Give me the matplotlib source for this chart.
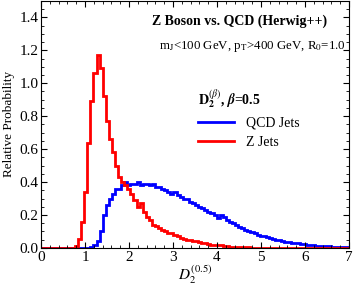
import numpy as np
import matplotlib
matplotlib.use("Agg")
import matplotlib.pyplot as plt
from matplotlib.ticker import MultipleLocator

# 100 bins between 0 and 7
edges = np.linspace(0, 7, 101)

z_jets = [0, 0, 0, 0, 0, 0, 0, 0, 0, 0,
          0, 0.01, 0.055, 0.16, 0.34, 0.64, 0.89, 1.06, 1.17, 1.09,
          0.92, 0.77, 0.66, 0.58, 0.50, 0.43, 0.40, 0.38, 0.36, 0.33,
          0.29, 0.25, 0.27, 0.22, 0.19, 0.17, 0.14, 0.13, 0.12, 0.11,
          0.10, 0.09, 0.09, 0.08, 0.07, 0.06, 0.055, 0.05, 0.045, 0.04,
          0.04, 0.035, 0.03, 0.03, 0.025, 0.02, 0.02, 0.018, 0.015, 0.012,
          0.01, 0.008, 0.006, 0.005, 0.004, 0.004, 0.003, 0.003, 0.002, 0.002,
          0.002, 0.002, 0.002, 0.001, 0.001, 0.001, 0.001, 0.001, 0.001, 0.001,
          0.001, 0.001, 0.001, 0.001, 0.001, 0.001, 0.001, 0.001, 0.001, 0.001,
          0.001, 0.001, 0.001, 0.001, 0.001, 0.001, 0.001, 0.001, 0.001, 0.001]

qcd_jets = [0, 0, 0, 0, 0, 0, 0, 0, 0, 0,
            0, 0, 0, 0, 0, 0.002, 0.005, 0.015, 0.04, 0.10,
            0.20, 0.26, 0.30, 0.33, 0.36, 0.36, 0.38, 0.40, 0.38, 0.39,
            0.39, 0.40, 0.38, 0.39, 0.39, 0.38, 0.39, 0.37, 0.37, 0.36,
            0.35, 0.34, 0.33, 0.34, 0.32, 0.31, 0.30, 0.30, 0.28, 0.27,
            0.26, 0.25, 0.24, 0.23, 0.22, 0.21, 0.20, 0.18, 0.20, 0.19,
            0.17, 0.16, 0.15, 0.14, 0.125, 0.12, 0.11, 0.10, 0.095, 0.09,
            0.08, 0.072, 0.07, 0.065, 0.06, 0.055, 0.048, 0.045, 0.042, 0.038,
            0.035, 0.032, 0.03, 0.027, 0.025, 0.022, 0.018, 0.017, 0.015, 0.014,
            0.012, 0.01, 0.01, 0.009, 0.008, 0.008, 0.007, 0.006, 0.006, 0.005]

plt.rcParams['font.family'] = ['Liberation Serif', 'DejaVu Serif']
plt.rcParams['mathtext.fontset'] = 'stix'

fig = plt.figure(figsize=(3.54, 2.92), dpi=100)
ax = fig.add_axes([0.116, 0.151, 0.870, 0.846])

ax.stairs(qcd_jets, edges, color='#0000ff', lw=2.0, label='QCD Jets')
ax.stairs(z_jets, edges, color='#ff0000', lw=2.0, label='Z Jets')

ax.set_xlim(0, 7)
ax.set_ylim(0, 1.5)
ax.set_yticks(np.arange(0, 1.41, 0.2))
ax.set_yticklabels(['%.1f' % v for v in np.arange(0, 1.41, 0.2)])
ax.xaxis.set_major_locator(MultipleLocator(1))
ax.xaxis.set_minor_locator(MultipleLocator(0.2))
ax.yaxis.set_minor_locator(MultipleLocator(0.05))
ax.tick_params(which='both', direction='in', top=True, right=True, labelsize=11, pad=2)
ax.tick_params(which='major', length=4, width=0.8)
ax.tick_params(which='minor', length=2, width=0.6)

ax.set_ylabel('Relative Probability', fontsize=9.5, labelpad=3)
ax.set_xlabel(r'$D_2^{(0.5)}$', fontsize=11, labelpad=0)

ax.text(4.52, 1.375, 'Z Boson vs. QCD (Herwig++)', fontsize=10, fontweight='bold',
        ha='center', va='center')
ax.text(4.8, 1.225, r'm$_\mathrm{J}$<100 GeV, p$_\mathrm{T}$>400 GeV, R$_0$=1.0',
        fontsize=9.3, ha='center', va='center')

leg = ax.legend(loc='upper left', bbox_to_anchor=(0.47, 0.70), frameon=False,
                fontsize=10, handlelength=2.6, handletextpad=0.8, labelspacing=0.45,
                title=r'$\mathbf{D}_\mathbf{2}^{(\beta)}$, $\boldsymbol{\beta}$=0.5',
                title_fontproperties={'size': 10, 'weight': 'bold'})
leg._legend_box.align = 'left'

fig.savefig('out.png', dpi=100)
